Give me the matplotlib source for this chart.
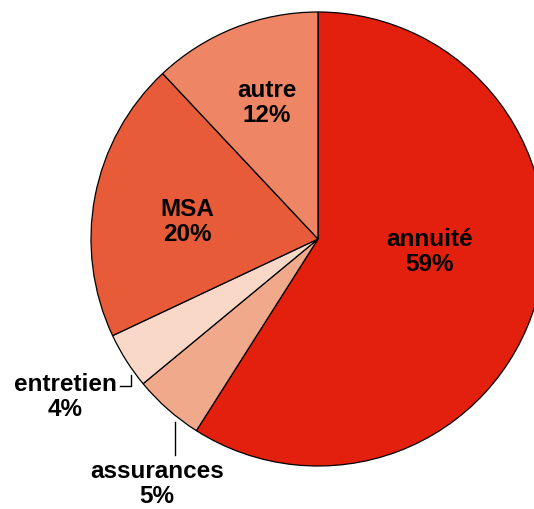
import matplotlib.pyplot as plt

plt.rcParams['font.family'] = ['Liberation Sans', 'DejaVu Sans']

# Parts of the total, clockwise from the top
labels = ['annuité', 'assurances', 'entretien', 'MSA', 'autre']
shares = [59, 5, 4, 20, 12]
colors = ['#E31F0E', '#F0A98B', '#F9D8C7', '#E85B39', '#EE8565']

fig = plt.figure(figsize=(5.34, 5.10), dpi=100)
ax = fig.add_axes([0, 0, 1, 1])

wedges, _ = ax.pie(shares, colors=colors, startangle=90, counterclock=False,
                   center=(318, 270), radius=227,
                   wedgeprops=dict(edgecolor='black', linewidth=0.9))

ax.set_xlim(0, 534)
ax.set_ylim(0, 510)
ax.set_aspect('equal')
ax.axis('off')

txt = dict(ha='center', va='center', fontsize=17.5, fontweight='bold', linespacing=1.1)
# label positions in pixels (y measured from top)
pos = {'annuité': (430, 252), 'autre': (267, 103), 'MSA': (187, 222),
       'entretien': (65, 397), 'assurances': (157, 484)}
for lab, val in zip(labels, shares):
    x, y = pos[lab]
    ax.text(x, 510 - y, f'{lab}\n{val}%', **txt)

# leader lines for the small slices
ax.plot([120, 131, 131], [510 - 387, 510 - 387, 510 - 376], color='black', lw=1)
ax.plot([175, 175], [510 - 423, 510 - 456], color='black', lw=1)

fig.savefig('out.png', dpi=100)
